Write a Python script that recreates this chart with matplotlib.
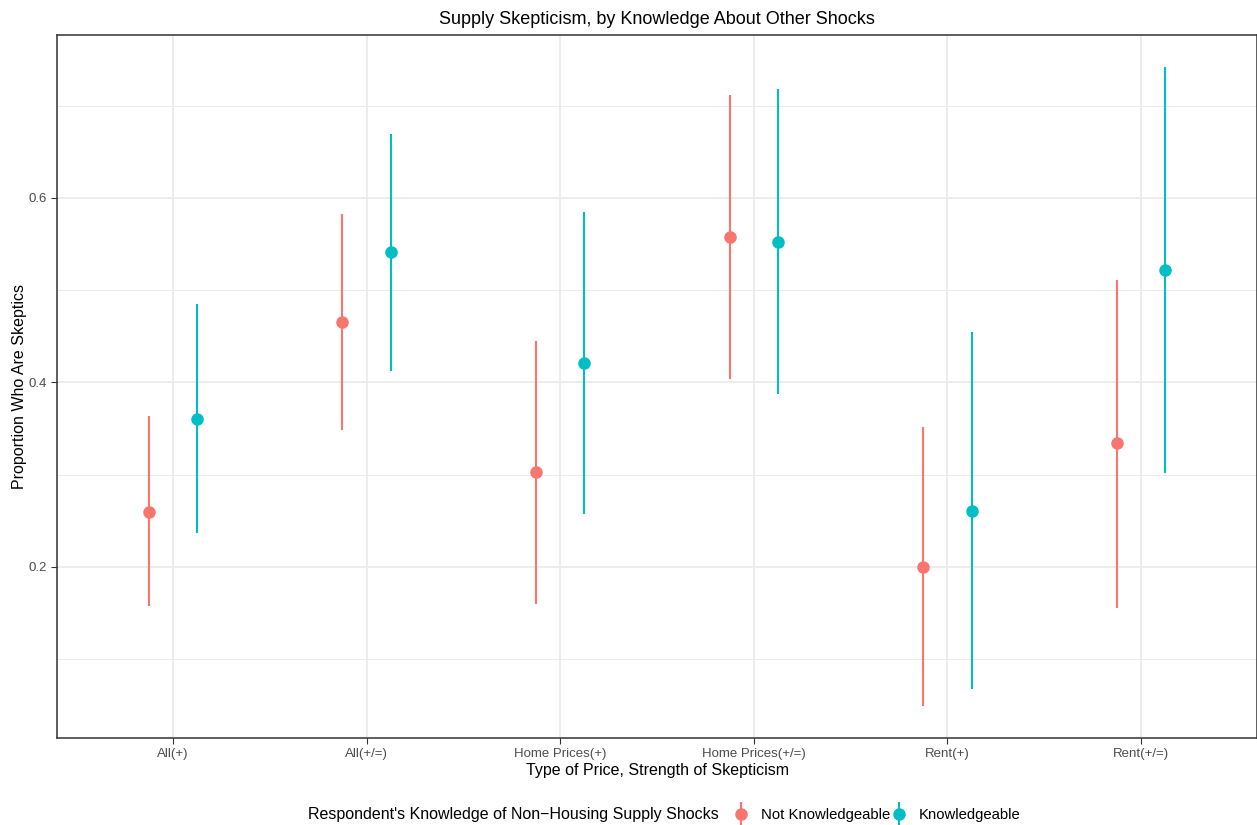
import numpy as np
import matplotlib.pyplot as plt
from matplotlib.lines import Line2D
from matplotlib.ticker import MultipleLocator

plt.rcParams['font.family'] = ['Liberation Sans', 'DejaVu Sans']

categories = ['All(+)', 'All(+/=)', 'Home Prices(+)', 'Home Prices(+/=)', 'Rent(+)', 'Rent(+/=)']

# Not Knowledgeable
nk_est = [0.260, 0.466, 0.303, 0.558, 0.200, 0.334]
nk_low = [0.158, 0.349, 0.160, 0.404, 0.049, 0.156]
nk_high = [0.364, 0.583, 0.445, 0.712, 0.352, 0.511]

# Knowledgeable
k_est = [0.360, 0.541, 0.421, 0.552, 0.261, 0.522]
k_low = [0.237, 0.412, 0.257, 0.387, 0.068, 0.302]
k_high = [0.485, 0.669, 0.585, 0.718, 0.455, 0.742]

red = '#F8766D'
teal = '#00BFC4'

x = np.arange(len(categories))
dodge = 0.125

fig = plt.figure(figsize=(12.57, 8.25), dpi=100)
ax = fig.add_axes([57/1257, 1 - 738/825, 1 - 57/1257, (738 - 35)/825])

def pointrange(xs, est, low, high, color):
    est = np.array(est)
    err = [est - np.array(low), np.array(high) - est]
    ax.errorbar(xs, est, yerr=err, fmt='o', color=color, ecolor=color,
                markersize=8, elinewidth=1.5, capsize=0, zorder=3)
    # legend key: vertical line with a dot on it
    return (Line2D([], [], marker='|', markersize=17, mew=1.5, linestyle='none', color=color),
            Line2D([], [], marker='o', markersize=8, linestyle='none', color=color))

h1 = pointrange(x - dodge, nk_est, nk_low, nk_high, red)
h2 = pointrange(x + dodge, k_est, k_low, k_high, teal)

ax.set_xlim(-0.6, len(categories) - 0.4)
ax.set_ylim(0.0146, 0.7767)
ax.set_xticks(x)
ax.set_xticklabels(categories)
ax.yaxis.set_minor_locator(MultipleLocator(0.1))
ax.set_yticks([0.2, 0.4, 0.6])
ax.set_yticklabels(['0.2', '0.4', '0.6'])
ax.tick_params(axis='both', which='major', length=4, color='#333333', labelcolor='#4D4D4D',
               labelsize=9.5, width=0.8)
ax.tick_params(axis='y', which='minor', length=0)

ax.grid(True, which='major', color='#EBEBEB', linewidth=1.3, zorder=0)
ax.grid(True, which='minor', axis='y', color='#EBEBEB', linewidth=0.7, zorder=0)
ax.set_axisbelow(True)
for s in ax.spines.values():
    s.set_color('#333333')
    s.set_linewidth(1.1)

ax.set_title('Supply Skepticism, by Knowledge About Other Shocks', fontsize=13, pad=8)
ax.set_xlabel('Type of Price, Strength of Skepticism', fontsize=11.5, labelpad=2)
ax.set_ylabel('Proportion Who Are Skeptics', fontsize=11.5, labelpad=1)

fig.text(308/1257, 1 - 815/825, "Respondent's Knowledge of Non\u2212Housing Supply Shocks",
         fontsize=11.5, ha='left', va='center')
fig.legend(handles=[h1, h2], labels=['Not Knowledgeable', 'Knowledgeable'],
           loc='center left', bbox_to_anchor=(728/1257, 1 - 815/825),
           ncol=2, frameon=False, fontsize=10.7, handlelength=1.0, handletextpad=0.85,
           columnspacing=0.05, borderaxespad=0)

fig.savefig('out.png', dpi=100)
